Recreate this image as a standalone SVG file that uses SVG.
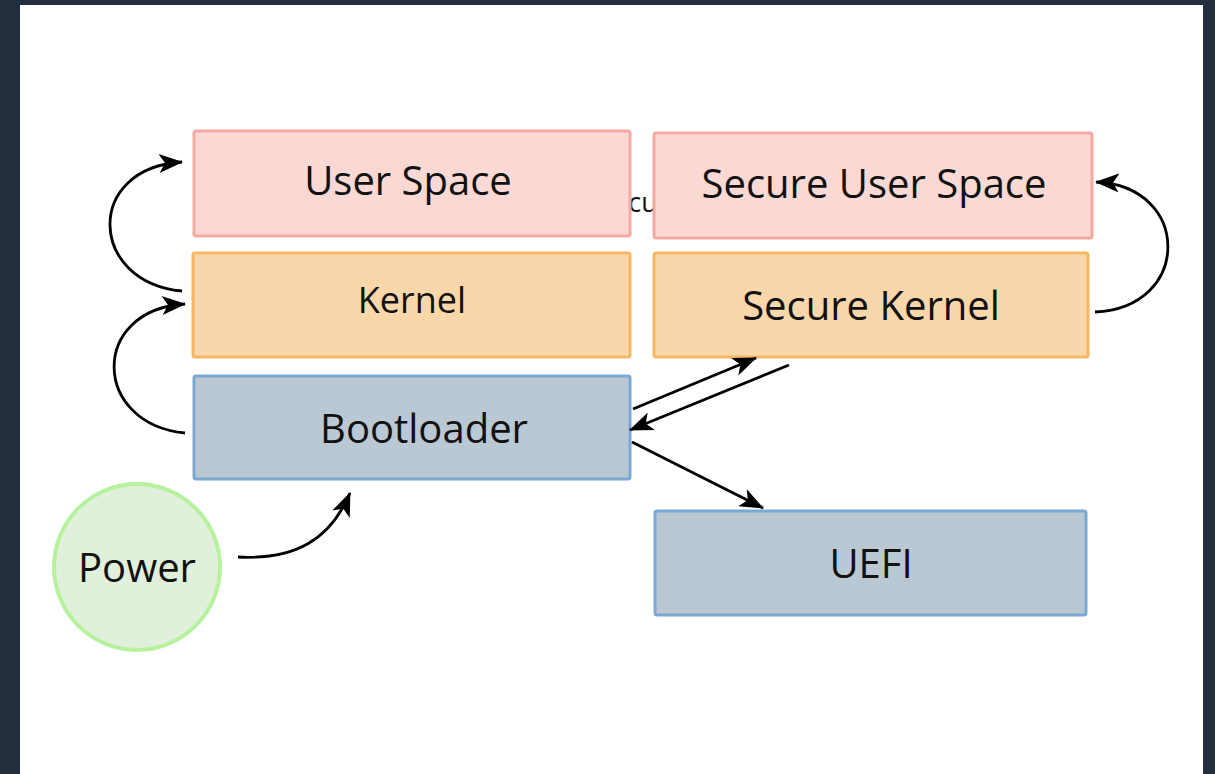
<svg xmlns="http://www.w3.org/2000/svg" width="1215" height="774" viewBox="0 0 1215 774">
  <style>
    .lbl { font-family: "Open Sans", "Noto Sans", "Liberation Sans", sans-serif; font-weight: 500; fill: #111; text-anchor: middle; }
    .user { fill: #fad8d4; stroke: #f5aaa1; stroke-width: 3; }
    .kern { fill: #fad6ab; stroke: #f6b862; stroke-width: 3; }
    .boot { fill: #bac8d3; stroke: #7ca8d4; stroke-width: 3; }
    .pwr { fill: #e1f0da; stroke: #b6f29d; stroke-width: 4; }
    .edge { fill: none; stroke: #000; stroke-width: 2.8; }
  </style>
  <defs>
    <marker id="head" viewBox="0 0 24 19" refX="23" refY="9.5" markerWidth="24" markerHeight="19" markerUnits="userSpaceOnUse" orient="auto">
      <path d="M0,0 L24,9.5 L0,19 L6,9.5 Z" fill="#000"/>
    </marker>
  </defs>

  <!-- page frame -->
  <rect x="0" y="0" width="1215" height="774" fill="#232f3e"/>
  <rect x="20" y="5" width="1183" height="769" fill="#ffffff"/>

  <!-- stray label fragment between the top boxes -->
  <text x="643" y="212" class="lbl" font-size="27">cu</text>

  <g id="user-space">
    <rect class="user" x="194" y="131" width="436" height="105" rx="2"/>
    <text class="lbl" x="408" y="195" font-size="40">User Space</text>
  </g>
  <g id="secure-user-space">
    <rect class="user" x="654" y="133" width="438" height="105" rx="2"/>
    <text class="lbl" x="874" y="198" font-size="40">Secure User Space</text>
  </g>
  <g id="kernel">
    <rect class="kern" x="193" y="253" width="437" height="104" rx="2"/>
    <text class="lbl" x="412" y="313" font-size="36">Kernel</text>
  </g>
  <g id="secure-kernel">
    <rect class="kern" x="654" y="253" width="434" height="104" rx="2"/>
    <text class="lbl" x="871" y="320" font-size="40">Secure Kernel</text>
  </g>
  <g id="bootloader">
    <rect class="boot" x="194" y="376" width="436" height="103" rx="2"/>
    <text class="lbl" x="424" y="443" font-size="40">Bootloader</text>
  </g>
  <g id="uefi">
    <rect class="boot" x="655" y="511" width="431" height="104" rx="2"/>
    <text class="lbl" x="871" y="578" font-size="40">UEFI</text>
  </g>
  <g id="power">
    <circle class="pwr" cx="137" cy="567" r="83"/>
    <text class="lbl" x="137" y="582" font-size="40">Power</text>
  </g>

  <g id="connectors">
    <path class="edge" marker-end="url(#head)" d="M182,291 C88,282 84,168 182,162"/>
    <path class="edge" marker-end="url(#head)" d="M185,433 C92,424 89,310 185,304"/>
    <path class="edge" marker-end="url(#head)" d="M1095,312 C1192,308 1192,186 1096,182"/>
    <path class="edge" marker-end="url(#head)" d="M238,557 C295,560 330,540 350,493"/>
    <path class="edge" marker-end="url(#head)" d="M633,409 L756,358"/>
    <path class="edge" marker-end="url(#head)" d="M789,365 L630,430"/>
    <path class="edge" marker-end="url(#head)" d="M632,442 L763,508"/>
  </g>
</svg>
